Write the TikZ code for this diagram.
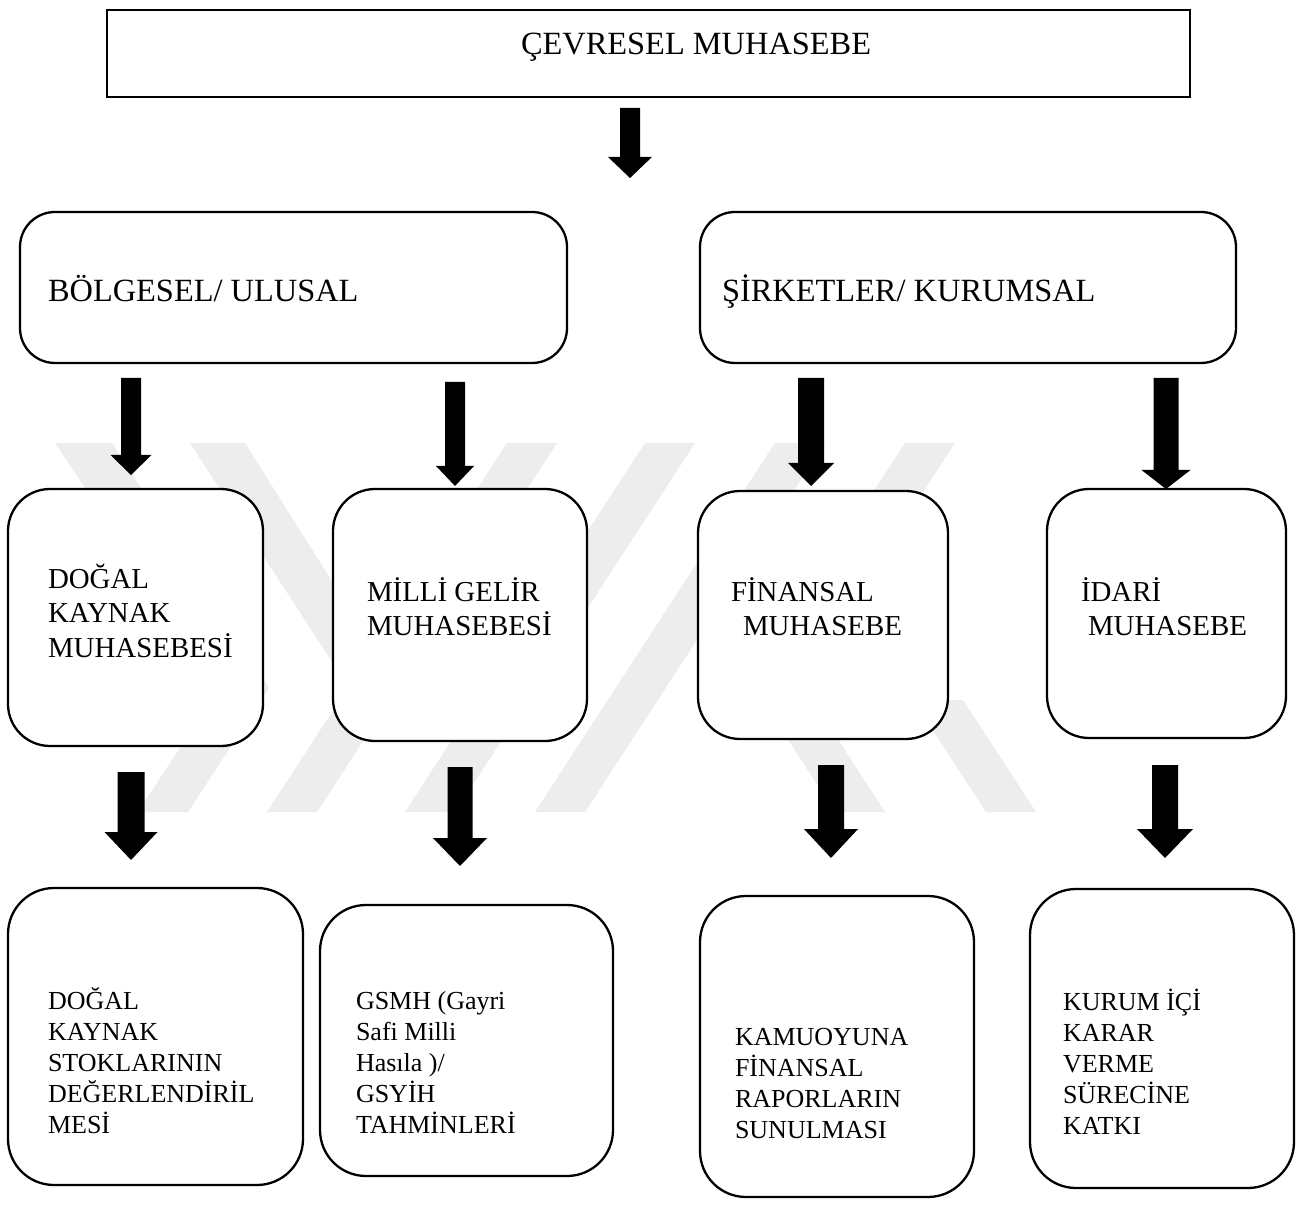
\documentclass[tikz,border=0pt]{standalone}
\usepackage{fontspec}
\setmainfont{Liberation Serif}
\usetikzlibrary{calc}
\newcommand\fa{\fontsize{32.4pt}{38pt}\selectfont}
\newcommand\fb{\fontsize{28.9pt}{34.5pt}\selectfont}
\newcommand\fc{\fontsize{26pt}{31pt}\selectfont}
\newcommand\stack[1]{\vtop{\lineskiplimit=-\maxdimen\hbox\bgroup#1\egroup}}
\newcommand\nl{\egroup\hbox\bgroup}
\newcommand\blkarrow[5]{\fill let \p1=(#1), \p2=(#2) in
  (\x1-#3,\y1) -- (\x1+#3,\y1) -- (\x1+#3,\y2+#5) -- (\x1+#4,\y2+#5) --
  (\x1,\y2) -- (\x1-#4,\y2+#5) -- (\x1-#3,\y2+#5) -- cycle;}
\tikzset{
  wm/.style={fill=black!7},
  sqbox/.style={draw, line width=2.3pt, fill=white, anchor=north west, inner sep=0, outer sep=0},
  rbox/.style={sqbox, rounded corners=#1},
  txt/.style={anchor=base west, inner sep=0, outer sep=0, text=black},
}
\begin{document}
\begin{tikzpicture}[x=1pt,y=-1pt]
\useasboundingbox (0,0) rectangle (1310,1214);
\fill[white] (0,0) rectangle (1310,1214);
% faint watermark
\fill[wm] (55,443) -- (112,443) -- (269,688) -- (188,812) -- (138,812) -- (219,688) -- cycle;
\fill[wm] (190,443) -- (245,443) -- (399,688) -- (349,688) -- cycle;
\fill[wm] (507,443) -- (557,443) -- (317,812) -- (267,812) -- cycle;
\fill[wm] (645,443) -- (695,443) -- (455,812) -- (405,812) -- cycle;
\fill[wm] (775,443) -- (825,443) -- (585,812) -- (535,812) -- cycle;
\fill[wm] (905,443) -- (955,443) -- (800,681) -- (885,812) -- (835,812) -- (750,681) -- cycle;
\fill[wm] (913,700) -- (963,700) -- (1036,812) -- (986,812) -- cycle;
% boxes
\node[sqbox, minimum width=1083pt, minimum height=87pt] (top) at (107,10) {};
\node[rbox=35pt, minimum width=547pt, minimum height=151pt] (reg) at (20,212) {};
\node[rbox=35pt, minimum width=536pt, minimum height=151pt] (corp) at (700,212) {};
\node[rbox=42pt, minimum width=255pt, minimum height=257pt] (nat) at (8,489) {};
\node[rbox=42pt, minimum width=254pt, minimum height=252pt] (inc) at (333,489) {};
\node[rbox=42pt, minimum width=250pt, minimum height=248pt] (fin) at (698,491) {};
\node[rbox=42pt, minimum width=239pt, minimum height=249pt] (adm) at (1047,489) {};
\node[rbox=46pt, minimum width=295pt, minimum height=297pt] (stk) at (8,888) {};
\node[rbox=46pt, minimum width=293pt, minimum height=271pt] (gdp) at (320,905) {};
\node[rbox=46pt, minimum width=274pt, minimum height=301pt] (rep) at (700,896) {};
\node[rbox=46pt, minimum width=264pt, minimum height=299pt] (dec) at (1030,889) {};
% texts
\node[txt, font=\fa] (ttop) at (521,55) {ÇEVRESEL MUHASEBE};
\node[txt, font=\fa] (treg) at (48,302) {BÖLGESEL/ ULUSAL};
\node[txt, font=\fa] (tcorp) at (722,302) {ŞİRKETLER/ KURUMSAL};
\node[txt, font=\fb] (tnat) at (48,588) {\stack{DOĞAL\nl KAYNAK\nl MUHASEBESİ}};
\node[txt, font=\fb] (tinc) at (367,601) {\stack{MİLLİ GELİR\nl MUHASEBESİ}};
\node[txt, font=\fb] (tfin) at (731,601) {\stack{FİNANSAL\nl\hskip12pt MUHASEBE}};
\node[txt, font=\fb] (tadm) at (1081,601) {\stack{İDARİ\nl\hskip7pt MUHASEBE}};
\node[txt, font=\fc] (tstk) at (48,1009) {\stack{DOĞAL\nl KAYNAK\nl STOKLARININ\nl DEĞERLENDİRİL\nl MESİ}};
\node[txt, font=\fc] (tgdp) at (356,1009) {\stack{GSMH (Gayri\nl Safi Milli\nl Hasıla )/\nl GSYİH\nl TAHMİNLERİ}};
\node[txt, font=\fc] (trep) at (735,1045) {\stack{KAMUOYUNA\nl FİNANSAL\nl RAPORLARIN\nl SUNULMASI}};
\node[txt, font=\fc] (tdec) at (1063,1010) {\stack{KURUM İÇİ\nl KARAR\nl VERME\nl SÜRECİNE\nl KATKI}};
% arrow ends
\coordinate (a0s) at (630,108); \coordinate (a0e) at (630,178);
\coordinate (a1s) at (131,378); \coordinate (a1e) at (131,475);
\coordinate (a2s) at (455,382); \coordinate (a2e) at (455,486);
\coordinate (a3s) at (811,378); \coordinate (a3e) at (811,486);
\coordinate (a4s) at (1166,378); \coordinate (a4e) at (1166,489);
\coordinate (a5s) at (131,772); \coordinate (a5e) at (131,860);
\coordinate (a6s) at (460,767); \coordinate (a6e) at (460,866);
\coordinate (a7s) at (831,765); \coordinate (a7e) at (831,858);
\coordinate (a8s) at (1165,765); \coordinate (a8e) at (1165,858);
\blkarrow{a0s}{a0e}{10pt}{22pt}{21pt}
\blkarrow{a1s}{a1e}{10pt}{20.5pt}{20pt}
\blkarrow{a2s}{a2e}{10pt}{19pt}{20pt}
\blkarrow{a3s}{a3e}{13pt}{23pt}{23pt}
\blkarrow{a4s}{a4e}{12.5pt}{24.5pt}{19pt}
\blkarrow{a5s}{a5e}{13.5pt}{26.5pt}{28pt}
\blkarrow{a6s}{a6e}{12.5pt}{27pt}{28pt}
\blkarrow{a7s}{a7e}{13pt}{27pt}{29pt}
\blkarrow{a8s}{a8e}{13pt}{28pt}{29pt}
\end{tikzpicture}
\end{document}
